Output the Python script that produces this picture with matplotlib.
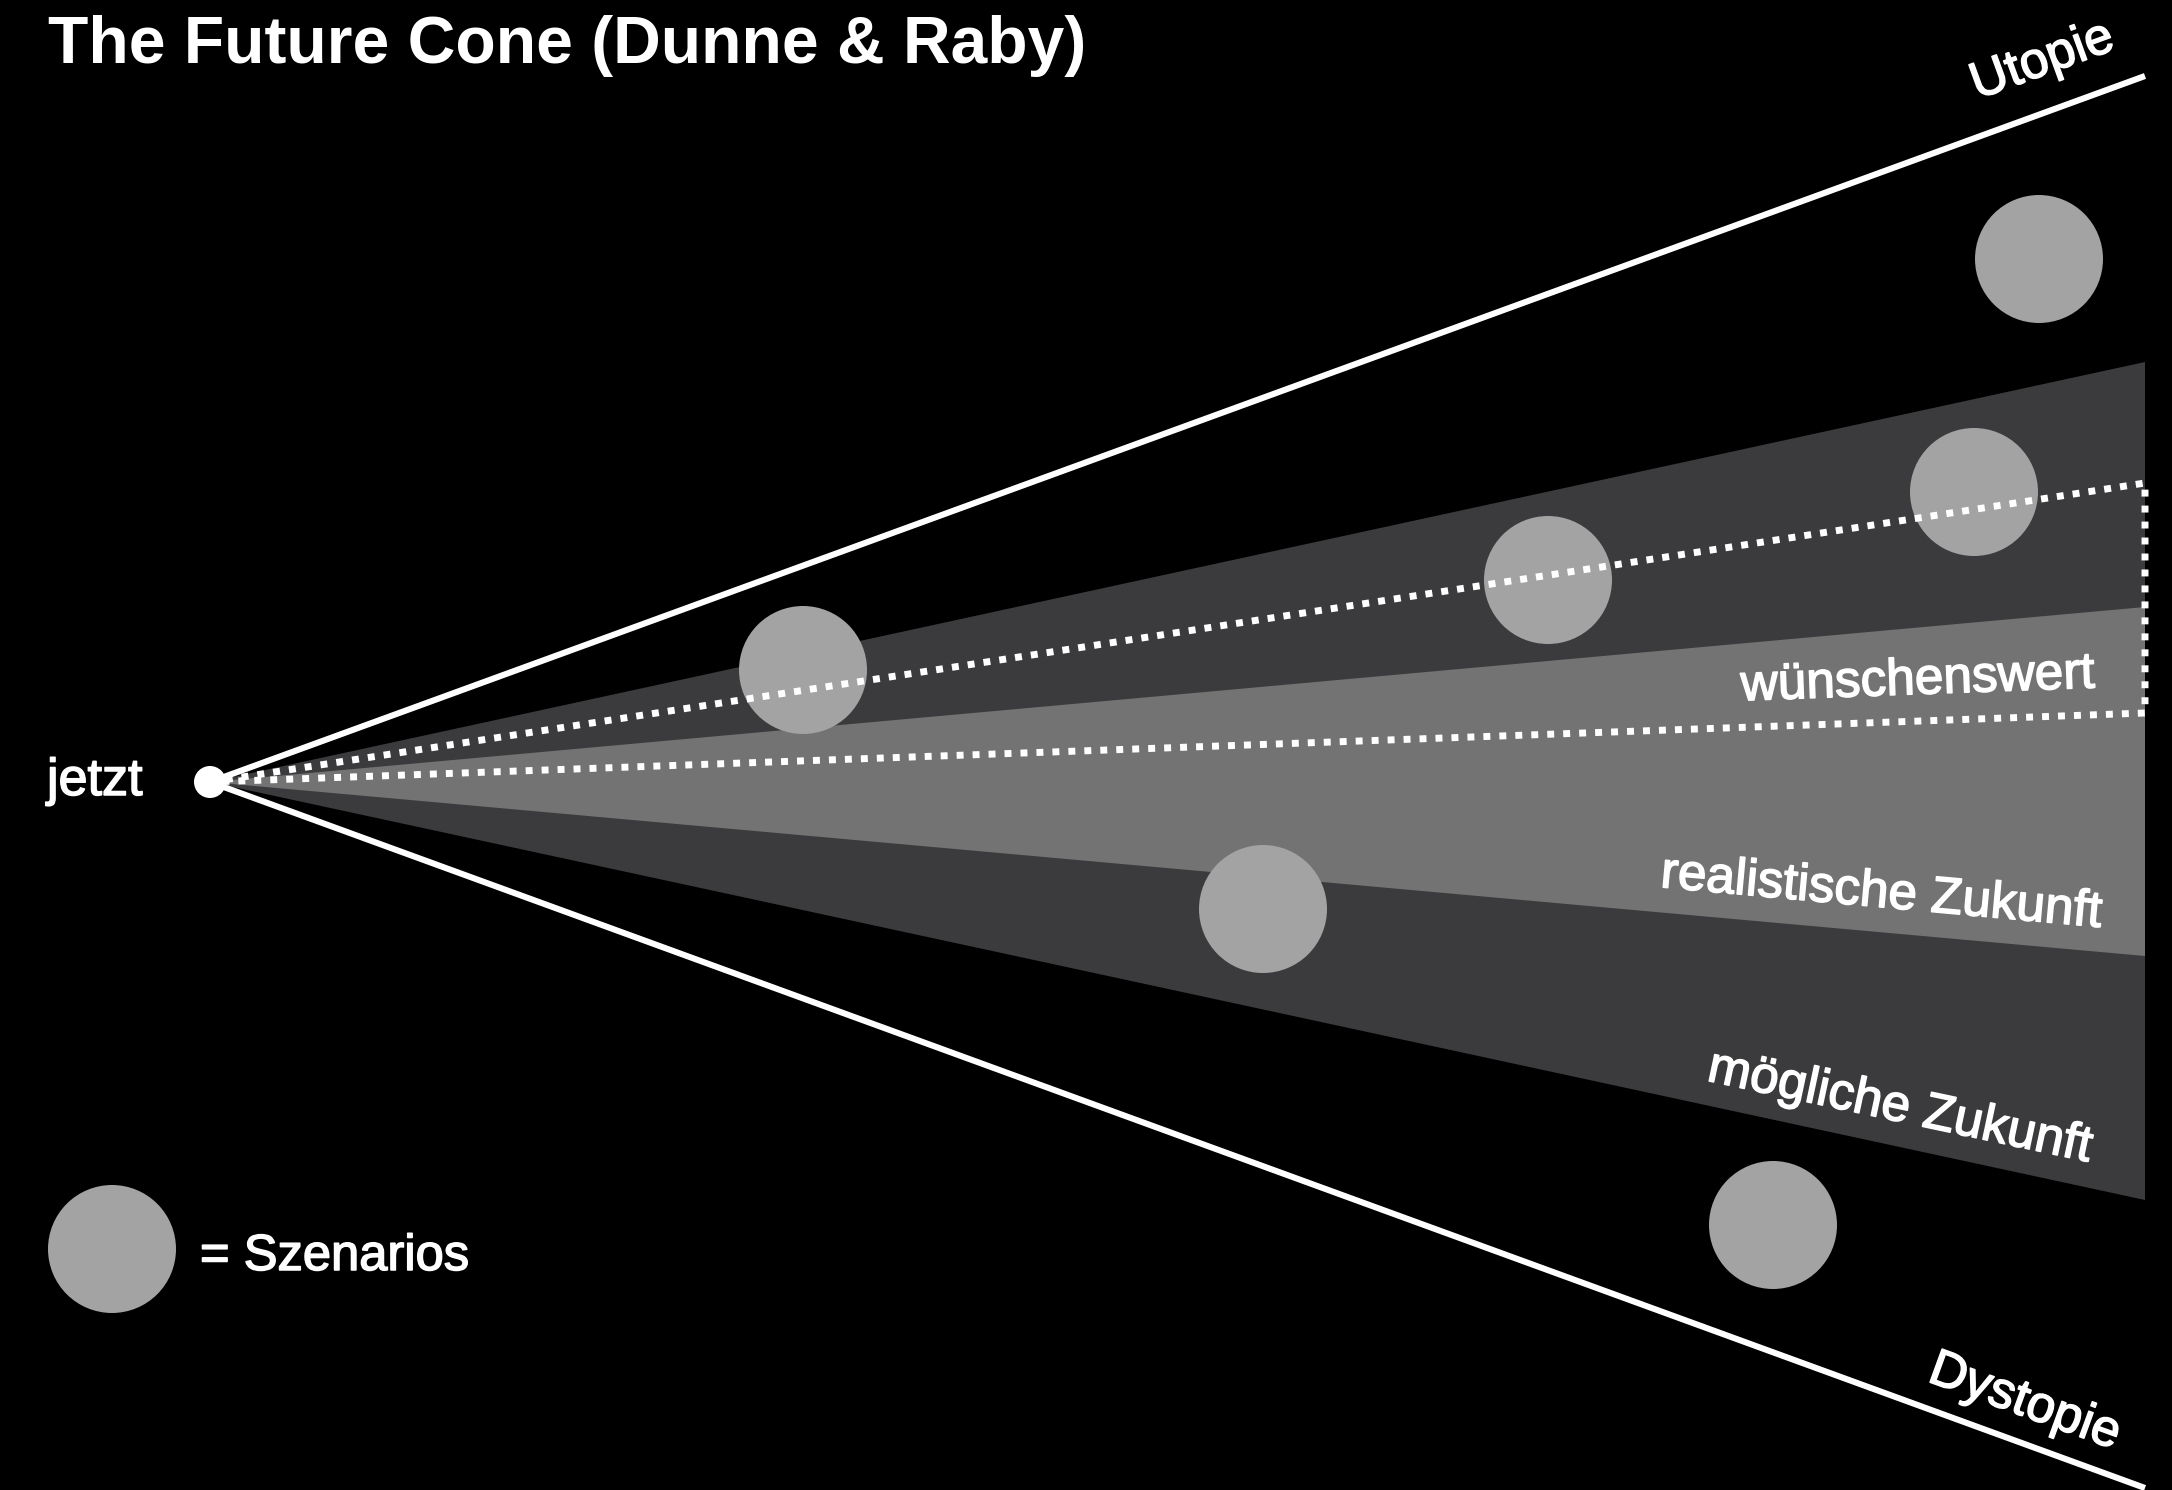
import matplotlib
matplotlib.use("Agg")
import matplotlib.pyplot as plt
from matplotlib.patches import Polygon, Circle
import matplotlib.patheffects as pe

plt.rcParams['font.family'] = ['Liberation Sans', 'DejaVu Sans']

# ---- data (canvas pixel coordinates, y downward) ----
origin = (210, 782)
cone_end_x = 2145
utopia_end_y = 76
dystopia_end_y = 1488
possible_top, possible_bottom = 362, 1200
plausible_top, plausible_bottom = 607, 956
preferable_top, preferable_bottom = 483, 713

scenario_x = [2039, 1974, 1548, 803, 1263, 1773]
scenario_y = [259, 492, 580, 670, 909, 1225]
scenario_r = 64
legend_circle = (112, 1249)

title = "The Future Cone (Dunne & Raby)"
labels = ["wünschenswert", "realistische Zukunft", "mögliche Zukunft"]
label_x = [1918, 1880, 1897]
label_y = [694, 907, 1121]
label_rot = [2.1, -5.2, -12.0]

# ---- colours ----
BG = "#000000"
DARK = "#3b3b3d"
MID = "#737373"
CIRC = "#a3a3a3"
WHITE = "#ffffff"

fig = plt.figure(figsize=(21.72, 14.90), dpi=100, facecolor=BG)
ax = fig.add_axes([0, 0, 1, 1])
ax.set_facecolor(BG)
ax.set_xlim(0, 2172)
ax.set_ylim(1490, 0)
ax.axis("off")

ox, oy = origin
# cones
ax.add_patch(Polygon([origin, (cone_end_x, possible_top), (cone_end_x, possible_bottom)],
                     closed=True, facecolor=DARK, edgecolor="none", zorder=1))
ax.add_patch(Polygon([origin, (cone_end_x, plausible_top), (cone_end_x, plausible_bottom)],
                     closed=True, facecolor=MID, edgecolor="none", zorder=2))

# scenarios
for sx, sy in zip(scenario_x, scenario_y):
    ax.add_patch(Circle((sx, sy), scenario_r, facecolor=CIRC, edgecolor="none", zorder=3))
ax.add_patch(Circle(legend_circle, scenario_r, facecolor=CIRC, edgecolor="none", zorder=3))

# preferable (dotted)
ax.plot([ox, cone_end_x, cone_end_x, ox],
        [oy, preferable_top, preferable_bottom, oy],
        color=WHITE, lw=5.0, linestyle=(0, (1, 1.3)), dash_capstyle="butt",
        solid_joinstyle="miter", zorder=4)

# utopia / dystopia lines
ax.plot([ox, cone_end_x], [oy, utopia_end_y], color=WHITE, lw=4.4,
        solid_capstyle="butt", zorder=5)
ax.plot([ox, cone_end_x], [oy, dystopia_end_y], color=WHITE, lw=4.4,
        solid_capstyle="butt", zorder=5)
ax.add_patch(Circle(origin, 16, facecolor=WHITE, edgecolor="none", zorder=6))

# texts
fx = [pe.withStroke(linewidth=1.1, foreground=WHITE)]
ax.text(48, 63, title, color=WHITE, fontsize=47.5, fontweight="bold",
        ha="left", va="baseline", zorder=7)
ax.text(47, 795, "jetzt", color=WHITE, fontsize=37.5, ha="left", va="baseline",
        zorder=7, path_effects=fx)
ax.text(200, 1270, "= Szenarios", color=WHITE, fontsize=36.5, ha="left", va="baseline",
        zorder=7, path_effects=fx)

for t, x, y, r in zip(labels, label_x, label_y, label_rot):
    ax.text(x, y, t, color=WHITE, fontsize=37, ha="center", va="baseline",
            rotation=r, rotation_mode="anchor", zorder=7, path_effects=fx)

ax.text(2047, 74, "Utopie", color=WHITE, fontsize=37, ha="center", va="baseline",
        rotation=20.0, rotation_mode="anchor", zorder=7, path_effects=fx)
ax.text(2020, 1415, "Dystopie", color=WHITE, fontsize=37, ha="center", va="baseline",
        rotation=-20.0, rotation_mode="anchor", zorder=7, path_effects=fx)

fig.savefig("out.png", dpi=100, facecolor=BG)
